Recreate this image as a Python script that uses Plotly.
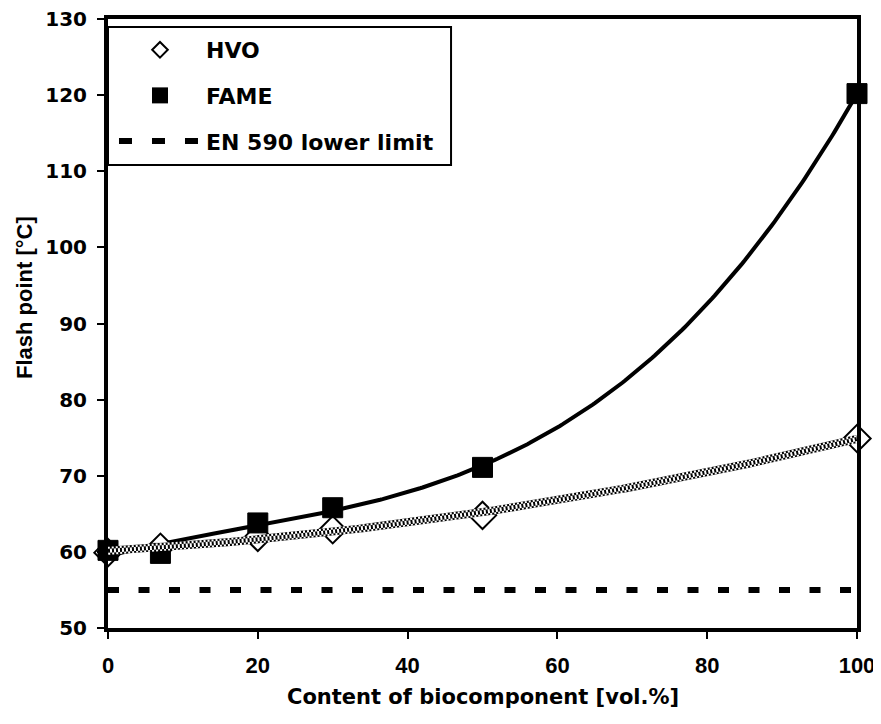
import numpy as np
import plotly.graph_objects as go

# ---- data ----
content = [0, 7, 20, 30, 50, 100]                 # vol.% biocomponent
hvo_flash = [59.9, 60.6, 61.9, 62.9, 64.8, 74.9]   # degC
fame_flash = [60.2, 59.8, 63.8, 65.8, 71.1, 120.2] # degC
en590_limit = 55
x_ticks = [0, 20, 40, 60, 80, 100]
y_ticks = [50, 60, 70, 80, 90, 100, 110, 120, 130]
legend_names = ["HVO", "FAME", "EN 590 lower limit"]

# trendlines (least-squares polynomial fits, as in the original chart)
xs = np.linspace(0, 100, 301)
fame_fit = np.polyval(np.polyfit(content, fame_flash, 3), xs)
hvo_fit = np.polyval(np.polyfit(content, hvo_flash, 2), xs)

ARIAL = "Liberation Sans, Arial, sans-serif"
NARROW = "Liberation Sans Narrow, Arial Narrow, Liberation Sans, sans-serif"
WIDE = "DejaVu Sans, Verdana, sans-serif"

fig = go.Figure()

# EN 590 lower limit
fig.add_trace(go.Scatter(x=[0, 100], y=[en590_limit, en590_limit], mode="lines",
                         line=dict(color="black", width=6, dash="11px,19.5px"),
                         showlegend=False, hoverinfo="skip"))
# FAME trendline
fig.add_trace(go.Scatter(x=xs, y=fame_fit, mode="lines",
                         line=dict(color="black", width=4),
                         showlegend=False, hoverinfo="skip"))
# HVO markers
fig.add_trace(go.Scatter(x=content, y=hvo_flash, mode="markers", cliponaxis=False,
                         marker=dict(symbol="diamond", size=21, color="white",
                                     line=dict(color="black", width=2)),
                         showlegend=False, name="HVO"))
# FAME markers
fig.add_trace(go.Scatter(x=content, y=fame_flash, mode="markers", cliponaxis=False,
                         marker=dict(symbol="square", size=20, color="black",
                                     line=dict(color="black", width=1)),
                         showlegend=False, name="FAME"))

# HVO trendline with a checkered look (layered dashes)
def checker(width, phase_b):
    fig.add_trace(go.Scatter(x=xs, y=hvo_fit, mode="lines",
                             line=dict(color="black", width=width),
                             showlegend=False, hoverinfo="skip"))
    fig.add_trace(go.Scatter(x=xs, y=hvo_fit, mode="lines",
                             line=dict(color="white", width=width,
                                       dash="0px,2px,2px,0px" if phase_b else "2px,2px"),
                             showlegend=False, hoverinfo="skip"))

checker(8, False)
checker(4, True)

# legend-only entries
fig.add_trace(go.Scatter(x=[None], y=[None], mode="markers", name=legend_names[0],
                         legendgroup="a",
                         marker=dict(symbol="diamond", size=12, color="white",
                                     line=dict(color="black", width=2))))
fig.add_trace(go.Scatter(x=[None], y=[None], mode="markers", name=legend_names[1],
                         legendgroup="b",
                         marker=dict(symbol="square", size=16, color="black")))
fig.add_trace(go.Scatter(x=[None], y=[None], mode="lines", name=legend_names[2],
                         legendgroup="c",
                         line=dict(color="black", width=6, dash="13px,20px")))

# legend frame
fig.add_shape(type="rect", xref="paper", yref="paper",
              x0=0, x1=0.458, y0=0.7603, y1=0.9869,
              line=dict(color="black", width=2), fillcolor="white", layer="above")

# axis titles
fig.add_annotation(text="<b>Content of biocomponent [vol.%]</b>", xref="paper", yref="paper",
                   x=0.5013, y=-0.1133, xanchor="center", yanchor="middle", showarrow=False,
                   font=dict(family=WIDE, size=21, color="black"))
fig.add_annotation(text="<b>Flash point [°C]</b>", xref="paper", yref="paper",
                   x=-0.1108, y=0.5419, xanchor="center", yanchor="middle", showarrow=False,
                   textangle=-90, font=dict(family=NARROW, size=22, color="black"))

fig.update_layout(
    width=873, height=716,
    margin=dict(l=100, r=24, t=11, b=96, autoexpand=False),
    plot_bgcolor="white", paper_bgcolor="white",
    font=dict(family=ARIAL, size=19, color="black"),
    showlegend=True,
    legend=dict(x=0.008, y=0.9836, xanchor="left", yanchor="top",
                bgcolor="rgba(0,0,0,0)", borderwidth=0,
                font=dict(family=WIDE, size=22, color="black", weight="bold"),
                itemsizing="trace", itemwidth=82, tracegroupgap=14,
                traceorder="grouped"),
    xaxis=dict(range=[0, 100], tickvals=x_ticks,
               ticktext=[f"<b>{v}</b>" for v in x_ticks],
               showgrid=False, zeroline=False, automargin=False,
               showline=True, linecolor="black", linewidth=4, mirror=True,
               ticks="outside", ticklen=7, tickwidth=2, tickcolor="black",
               ticklabelstandoff=8, ticklabeloverflow="allow",
               tickfont=dict(family=ARIAL, size=22)),
    yaxis=dict(range=[50, 130], tickvals=y_ticks,
               ticktext=[f"<b>{v}</b>" for v in y_ticks],
               showgrid=False, zeroline=False, automargin=False,
               showline=True, linecolor="black", linewidth=4, mirror=True,
               ticks="outside", ticklen=7, tickwidth=2, tickcolor="black",
               ticklabelstandoff=6, ticklabeloverflow="allow",
               tickfont=dict(family=WIDE, size=20)),
)

fig.write_html("out.html")
